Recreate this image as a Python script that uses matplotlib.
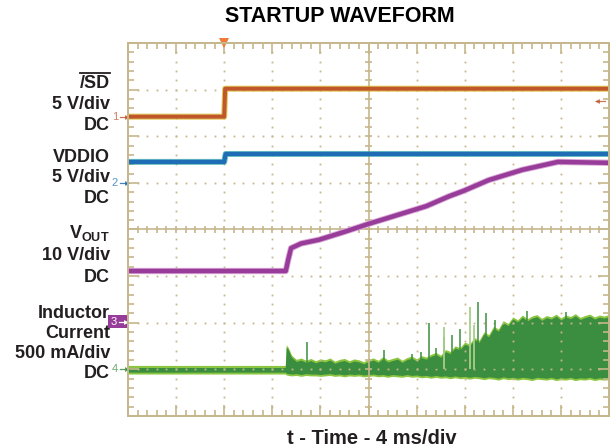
import numpy as np
import matplotlib
matplotlib.use("Agg")
import matplotlib.pyplot as plt
from matplotlib.lines import Line2D
from matplotlib.patches import Rectangle

plt.rcParams['font.family'] = ['Liberation Sans', 'DejaVu Sans']
plt.rcParams['mathtext.fontset'] = 'custom'
plt.rcParams['mathtext.rm'] = 'Liberation Sans'
plt.rcParams['mathtext.bf'] = 'Liberation Sans:bold'

# scope traces, x in time divisions (0..10), y in screen divisions (0..8)
sd_x = [0.0, 2.0, 2.02, 10.0]
sd_y = [6.42, 6.42, 7.02, 7.02]

vddio_x = [0.0, 2.0, 2.03, 10.0]
vddio_y = [5.45, 5.45, 5.62, 5.62]

vout_x = [0.0, 3.28, 3.33, 3.39, 3.6, 3.97, 4.5, 5.0, 5.6, 6.2, 6.67, 6.98, 7.5, 8.2, 8.94, 10.0]
vout_y = [3.11, 3.11, 3.35, 3.6, 3.7, 3.78, 3.95, 4.12, 4.31, 4.5, 4.71, 4.83, 5.06, 5.28, 5.45, 5.43]

# inductor current envelope (top / bottom of the noise band)
il_x = [0.0, 3.27, 3.29, 3.33,
        3.4, 3.5, 3.6, 3.7, 3.8, 3.9,
        4.0, 4.1, 4.2, 4.3, 4.4, 4.5, 4.6, 4.7, 4.8, 4.9,
        5.0, 5.1, 5.2, 5.3, 5.4, 5.5, 5.6, 5.7, 5.8, 5.9,
        6.0, 6.1, 6.2, 6.3, 6.4, 6.5, 6.6, 6.7, 6.8, 6.9,
        7.0, 7.1, 7.2, 7.3, 7.4, 7.5, 7.6, 7.7, 7.8, 7.9,
        8.0, 8.1, 8.2, 8.3, 8.4, 8.5, 8.6, 8.7, 8.8, 8.9,
        9.0, 9.1, 9.2, 9.3, 9.4, 9.5, 9.6, 9.7, 9.8, 9.9,
        10.0]
il_hi = [1.06, 1.06, 1.50, 1.45,
         1.28, 1.19, 1.22, 1.17, 1.21, 1.16,
         1.20, 1.18, 1.22, 1.15, 1.19, 1.21, 1.16, 1.20, 1.18, 1.14,
         1.19, 1.22, 1.17, 1.25, 1.18, 1.21, 1.24, 1.17, 1.23, 1.26,
         1.20, 1.27, 1.24, 1.30, 1.34, 1.28, 1.40, 1.36, 1.48, 1.44,
         1.56, 1.52, 1.66, 1.60, 1.78, 1.72, 1.90, 1.84, 2.02, 1.96,
         2.10, 2.04, 2.14, 2.06, 2.12, 2.15, 2.07, 2.13, 2.10, 2.16,
         2.08, 2.14, 2.11, 2.17, 2.09, 2.13, 2.16, 2.10, 2.14, 2.12,
         2.15]
il_lo = [0.94, 0.94, 0.92, 0.91,
         0.90, 0.91, 0.89, 0.91, 0.90, 0.90,
         0.89, 0.90, 0.91, 0.89, 0.90, 0.88, 0.90, 0.89, 0.90, 0.88,
         0.89, 0.90, 0.88, 0.89, 0.87, 0.89, 0.88, 0.87, 0.89, 0.87,
         0.88, 0.86, 0.87, 0.85, 0.87, 0.85, 0.86, 0.84, 0.86, 0.84,
         0.85, 0.83, 0.85, 0.84, 0.82, 0.84, 0.83, 0.81, 0.84, 0.82,
         0.83, 0.81, 0.83, 0.82, 0.80, 0.83, 0.82, 0.81, 0.83, 0.80,
         0.82, 0.81, 0.83, 0.80, 0.82, 0.81, 0.83, 0.80, 0.82, 0.81,
         0.82]

spike_x = [3.73, 5.32, 5.9, 6.09, 6.25, 6.4, 6.58, 6.73, 6.91, 7.27, 7.45, 7.62, 8.3, 9.1]
spike_top = [1.59, 1.42, 1.33, 1.37, 2.0, 1.46, 1.7, 1.74, 1.87, 2.45, 2.2, 2.05, 2.25, 2.22]
light_spike_x = [6.56, 7.1, 7.2]
light_spike_top = [1.91, 2.34, 1.95]

channel_y = {1: 6.42, 2: 5.0, 3: 2.02, 4: 1.0}
ref_marker_y = 6.76
trigger_x = 2.0

labels = [("/SD", 83), ("5 V/div", 104), ("DC", 125),
          ("VDDIO", 157), ("5 V/div", 177), ("DC", 198),
          (r"$\mathbf{V_{OUT}}$", 233), ("10 V/div", 256), ("DC", 277),
          ("Inductor", 313), ("Current", 333), ("500 mA/div", 354), ("DC", 373)]

grid_c = '#c6b68c'
sd_c, sd_noise = '#c0562b', '#d9b72a'
vd_c, vd_noise = '#1f6db4', '#2aa3a8'
vo_c, vo_noise = '#983c9a', '#d9a6d6'
il_dark, il_light = '#3b8e3f', '#8cc640'
txt_c = '#231f20'

W, H = 610, 448
fig = plt.figure(figsize=(6.1, 4.48), dpi=100)
ax = fig.add_axes([128 / W, 1 - 416 / H, 481 / W, 373 / H])
ax.set_xlim(0, 10)
ax.set_ylim(0, 8)

for s in ax.spines.values():
    s.set_color(grid_c)
    s.set_linewidth(1.4)
ax.set_xticks(range(11))
ax.set_yticks(range(9))
ax.set_xticks(np.arange(0, 10.01, 0.2), minor=True)
ax.set_yticks(np.arange(0, 8.01, 0.2), minor=True)
ax.tick_params(which='both', direction='in', top=True, right=True, color=grid_c,
               labelbottom=False, labelleft=False, width=1.2)
ax.tick_params(which='major', length=8)
ax.tick_params(which='minor', length=4.5)

# dotted graticule
dots = np.arange(0.2, 8.0, 0.2)
for i in range(1, 10):
    if i != 5:
        ax.plot([i] * len(dots), dots, ls='none', marker='s', ms=1.3, color=grid_c, mew=0)
dots = np.arange(0.2, 10.0, 0.2)
for j in range(1, 8):
    if j != 4:
        ax.plot(dots, [j] * len(dots), ls='none', marker='s', ms=1.3, color=grid_c, mew=0)
# center crosshair with small ticks
ax.axvline(5, color=grid_c, lw=1.2)
ax.axhline(4, color=grid_c, lw=1.2)
ax.hlines(np.arange(0.2, 8.0, 0.2), 4.93, 5.07, color=grid_c, lw=1.2)
ax.vlines(np.arange(0.2, 10.0, 0.2), 3.93, 4.07, color=grid_c, lw=1.2)

# traces
ax.plot(sd_x, sd_y, color=sd_noise, lw=4.3, alpha=0.8)
ax.plot(sd_x, sd_y, color=sd_c, lw=2.8)
ax.plot(vddio_x, vddio_y, color=vd_noise, lw=4.3, alpha=0.7)
ax.plot(vddio_x, vddio_y, color=vd_c, lw=3.0)
ax.plot(vout_x, vout_y, color=vo_noise, lw=4.5)
ax.plot(vout_x, vout_y, color=vo_c, lw=3.2)

il_hi = np.array(il_hi)
il_lo = np.array(il_lo)
ax.fill_between(il_x, il_lo - 0.04, il_hi + 0.025, color=il_light, lw=0)
ax.fill_between(il_x, il_lo, il_hi - 0.02, color=il_dark, lw=0)
ax.vlines(spike_x, 1.0, spike_top, color=il_dark, lw=1.1)
ax.vlines(light_spike_x, 1.0, light_spike_top, color='#a7cf8a', lw=1.3)

# channel markers
for ch, col in [(1, sd_c), (2, vd_c), (4, il_dark)]:
    y = channel_y[ch]
    ax.plot([-0.16, -0.02], [y, y], color=col, lw=0.9, alpha=0.85, clip_on=False)
    ax.plot([-0.03], [y], marker='>', ms=3.5, color=col, mew=0, alpha=0.85, clip_on=False)
    ax.text(-0.27, y, str(ch), color=col, fontsize=8, ha='center', va='center',
            alpha=0.75, clip_on=False)
ax.add_patch(Rectangle((-0.42, channel_y[3] - 0.14), 0.42, 0.28, color=vo_c,
                       clip_on=False, lw=0))
ax.text(-0.3, channel_y[3], '3', color='white', fontsize=8, ha='center', va='center')
ax.plot([-0.18, -0.03], [channel_y[3]] * 2, color='white', lw=0.9, clip_on=False)
ax.plot([-0.04], [channel_y[3]], marker='>', ms=3.5, color='white', mew=0, clip_on=False)
ax.plot([9.74, 9.92], [ref_marker_y] * 2, color=sd_c, lw=0.9, alpha=0.8)
ax.plot([9.75], [ref_marker_y], marker='<', ms=3.5, color=sd_c, mew=0, alpha=0.8)
ax.plot([trigger_x], [8.0], marker='v', ms=7, color='#f07a3a', mew=0, clip_on=False)

# labels
for txt, ypx in labels:
    t = fig.text(110 / W, 1 - ypx / H, txt, ha='right', va='center', fontsize=13,
                 fontweight='bold', color=txt_c)
    if txt == "/SD":
        fig.canvas.draw()
        bb = t.get_window_extent(fig.canvas.get_renderer())
        yl = bb.y1 + 1.5
        fig.add_artist(Line2D([bb.x0 / W, bb.x1 / W], [yl / H, yl / H], color=txt_c,
                              lw=1.3, transform=fig.transFigure))

fig.text(340 / W, 1 - 17 / H, "STARTUP WAVEFORM", ha='center', va='center',
         fontsize=15.5, fontweight='bold', color='black')
fig.text(372 / W, 1 - 438 / H, "t - Time - 4 ms/div", ha='center', va='center',
         fontsize=14.5, fontweight='bold', color=txt_c)

fig.savefig("out.png", dpi=100)
